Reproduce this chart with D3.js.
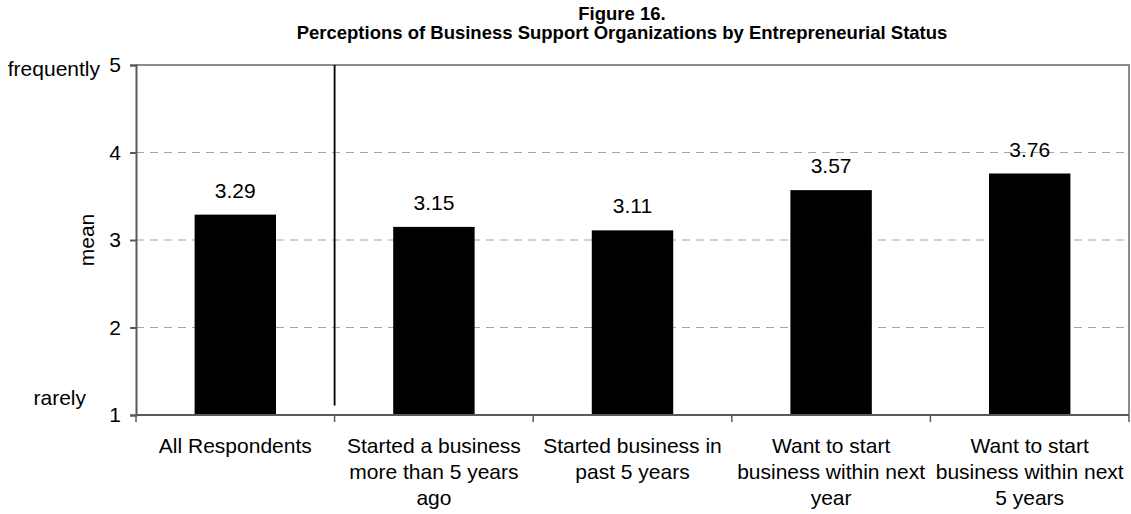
<!DOCTYPE html>
<html>
<head>
<meta charset="utf-8">
<script src="https://cdn.jsdelivr.net/npm/d3@7"></script>
<style>
  html, body { margin: 0; padding: 0; background: #fff; }
  svg { display: block; font-family: Arial, "Liberation Sans", sans-serif; }
</style>
</head>
<body>
<svg id="chart" width="1131" height="514"></svg>
<script>
// Mean perception scores by entrepreneurial status
const categories = [
  ["All Respondents"],
  ["Started a business", "more than 5 years", "ago"],
  ["Started business in", "past 5 years"],
  ["Want to start", "business within next", "year"],
  ["Want to start", "business within next", "5 years"]
];
const means = [3.29, 3.15, 3.11, 3.57, 3.76];
const yTicks = [1, 2, 3, 4, 5];
const gridValues = [2, 3, 4];
const titleLines = ["Figure 16.", "Perceptions of Business Support Organizations by Entrepreneurial Status"];
const dividerBottom = 1.11;

const svg = d3.select("#chart");
const margin = { left: 136, top: 65, right: 2, bottom: 99 };
const W = 1131, H = 514;
const innerW = W - margin.left - margin.right;
const innerH = H - margin.top - margin.bottom;
const labelSize = 21;

const idx = d3.range(categories.length);
const x = d3.scaleBand().domain(idx).range([margin.left, margin.left + innerW]).paddingInner(0.59).paddingOuter(0.295);
const xEdge = d3.scaleLinear().domain([0, categories.length]).range([margin.left, margin.left + innerW]);
const y = d3.scaleLinear().domain([1, 5]).range([margin.top + innerH, margin.top]);

// Title
svg.append("g").selectAll("text").data(titleLines).join("text")
  .attr("x", 622).attr("y", (d, i) => 20 + i * 19)
  .attr("text-anchor", "middle")
  .attr("font-weight", "bold").attr("font-size", 18.5)
  .attr("fill", "#000")
  .text(d => d);

// Dashed gridlines
svg.append("g").selectAll("line").data(gridValues).join("line")
  .attr("x1", margin.left).attr("x2", margin.left + innerW)
  .attr("y1", d => y(d)).attr("y2", d => y(d))
  .attr("stroke", "#a6a6a6").attr("stroke-width", 1)
  .attr("stroke-dasharray", "8,6");

// Top and right plot border
svg.append("path")
  .attr("d", `M${margin.left},${y(5)}H${margin.left + innerW}V${y(1)}`)
  .attr("fill", "none").attr("stroke", "#8c8c8c").attr("stroke-width", 2);

// Bars
svg.append("g").selectAll("rect").data(means).join("rect")
  .attr("x", (d, i) => x(i)).attr("width", x.bandwidth())
  .attr("y", d => y(d)).attr("height", d => y(1) - y(d))
  .attr("fill", "#000");

// Value labels
svg.append("g").selectAll("text").data(means).join("text")
  .attr("x", (d, i) => x(i) + x.bandwidth() / 2)
  .attr("y", d => y(d) - 17)
  .attr("text-anchor", "middle").attr("font-size", labelSize).attr("fill", "#000")
  .text(d => d.toFixed(2));

// Divider between total and subgroups
svg.append("line")
  .attr("x1", xEdge(1)).attr("x2", xEdge(1))
  .attr("y1", y(5)).attr("y2", y(dividerBottom))
  .attr("stroke", "#000").attr("stroke-width", 1.8);

// Y axis
const yAxis = d3.axisLeft(y).tickValues(yTicks).tickSize(6).tickPadding(9).tickFormat(d3.format("d"));
const gy = svg.append("g").attr("transform", `translate(${margin.left},0)`).call(yAxis);
gy.select(".domain").attr("stroke", "#5a5a5a").attr("stroke-width", 2);
gy.selectAll(".tick line").attr("stroke", "#5a5a5a").attr("stroke-width", 2);
gy.selectAll(".tick text").attr("font-size", labelSize).attr("fill", "#000").attr("font-family", "Arial, 'Liberation Sans', sans-serif");

// X axis with tick marks at category boundaries
const gx = svg.append("g");
gx.append("line")
  .attr("x1", margin.left).attr("x2", margin.left + innerW)
  .attr("y1", y(1)).attr("y2", y(1))
  .attr("stroke", "#5a5a5a").attr("stroke-width", 2);
gx.selectAll("line.tk").data(d3.range(categories.length + 1)).join("line")
  .attr("class", "tk")
  .attr("x1", d => xEdge(d)).attr("x2", d => xEdge(d))
  .attr("y1", y(1)).attr("y2", y(1) + 7)
  .attr("stroke", "#5a5a5a").attr("stroke-width", 1.5);

// Category labels
const cat = svg.append("g").selectAll("text").data(categories).join("text")
  .attr("text-anchor", "middle").attr("font-size", labelSize).attr("fill", "#000");
cat.each(function(lines, i) {
  d3.select(this).selectAll("tspan").data(lines).join("tspan")
    .attr("x", x(i) + x.bandwidth() / 2)
    .attr("y", (d, j) => 453 + j * 26)
    .text(d => d);
});

// Axis annotations
svg.append("text").attr("x", 100).attr("y", 76).attr("text-anchor", "end")
  .attr("font-size", labelSize).attr("fill", "#000").text("frequently");
svg.append("text").attr("x", 86).attr("y", 405).attr("text-anchor", "end")
  .attr("font-size", labelSize).attr("fill", "#000").text("rarely");
svg.append("text")
  .attr("transform", `translate(94,${y(3)}) rotate(-90)`)
  .attr("text-anchor", "middle")
  .attr("font-size", labelSize).attr("fill", "#000").text("mean");
</script>
</body>
</html>
